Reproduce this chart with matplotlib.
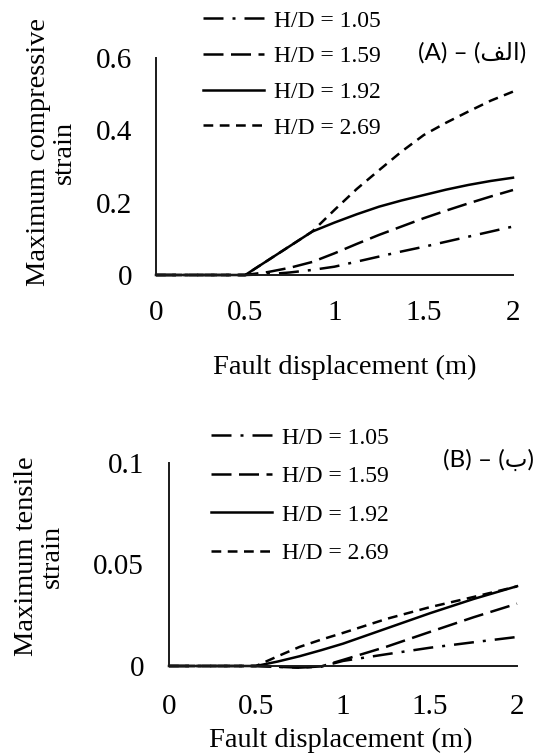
import numpy as np
import matplotlib
matplotlib.use('Agg')
import matplotlib.pyplot as plt

# fault displacement (m)
disp_a = [0, 0.5, 0.625, 0.75, 0.875, 1.0, 1.125, 1.25, 1.375, 1.5, 1.625, 1.75, 1.875, 2.0]

# (A) maximum compressive strain
comp_105 = [0, 0, 0.002, 0.007, 0.014, 0.023, 0.037, 0.051, 0.065, 0.078, 0.092, 0.106, 0.120, 0.134]
comp_159 = [0, 0, 0.008, 0.020, 0.036, 0.060, 0.086, 0.111, 0.134, 0.157, 0.178, 0.198, 0.217, 0.235]
comp_192 = [0, 0, 0.040, 0.080, 0.120, 0.145, 0.168, 0.189, 0.206, 0.221, 0.236, 0.249, 0.260, 0.269]
comp_269 = [0, 0, 0.040, 0.080, 0.120, 0.180, 0.238, 0.290, 0.341, 0.387, 0.421, 0.452, 0.482, 0.507]

disp_b = [0, 0.5, 0.625, 0.75, 0.875, 1.0, 1.25, 1.5, 1.75, 2.0]

# (B) maximum tensile strain
tens_105 = [0, 0, -0.0004, -0.0008, -0.0003, 0.0025, 0.0058, 0.0090, 0.0117, 0.0143]
tens_159 = [0, 0, -0.0004, -0.0008, -0.0002, 0.0030, 0.0095, 0.0168, 0.0240, 0.0307]
tens_192 = [0, 0, 0.0022, 0.0048, 0.0078, 0.0110, 0.0185, 0.0260, 0.0330, 0.0393]
tens_269 = [0, 0, 0.0048, 0.0094, 0.0130, 0.0163, 0.0232, 0.0290, 0.0340, 0.0392]

labels = ['H/D = 1.05', 'H/D = 1.59', 'H/D = 1.92', 'H/D = 2.69']
styles = [(0, (8.0, 3.6, 1.2, 3.6)), (0, (8.0, 3.0)), '-', (0, (3.9, 2.6))]

W, H = 543, 754
serif = ['Liberation Serif', 'DejaVu Serif']
fig = plt.figure(figsize=(W / 100, H / 100), dpi=100)


def px_axes(l, t, r, b):
    return fig.add_axes([l / W, 1 - b / H, (r - l) / W, (b - t) / H])


def setup(ax, ymax, yticks, yfmt):
    ax.set_xlim(0, 2)
    ax.set_ylim(0, ymax)
    for s in ['top', 'right']:
        ax.spines[s].set_visible(False)
    for s in ['left', 'bottom']:
        ax.spines[s].set_linewidth(1.4)
        ax.spines[s].set_color('#1a1a1a')
    ax.set_xticks([0, 0.5, 1, 1.5, 2])
    ax.set_xticklabels(['0', '0.5', '1', '1.5', '2'])
    ax.set_yticks(yticks)
    ax.set_yticklabels(yfmt)
    ax.tick_params(length=0, labelsize=21)
    for t in ax.get_xticklabels() + ax.get_yticklabels():
        t.set_family(serif)


def draw(ax, x, series, legend_xy, spacing):
    for ys, lab, ls in zip(series, labels, styles):
        ax.plot(x, ys, color='black', lw=1.8, ls=ls, label=lab, clip_on=False)
    leg = ax.legend(loc='upper left', bbox_to_anchor=(legend_xy[0] / W, 1 - legend_xy[1] / H),
                    bbox_transform=fig.transFigure, frameon=False, borderpad=0,
                    borderaxespad=0, handlelength=2.6, handletextpad=0.4,
                    labelspacing=spacing, prop={'family': serif, 'size': 17})
    return leg


# (A)
ax1 = px_axes(156, 58, 513, 275)
setup(ax1, 0.6, [0, 0.2, 0.4, 0.6], ['0', '0.2', '0.4', '0.6'])
ax1.tick_params(axis='x', pad=18)
ax1.tick_params(axis='y', pad=17)
draw(ax1, disp_a, [comp_105, comp_159, comp_192, comp_269], (203, 10), 0.6)

# (B)
ax2 = px_axes(169, 463, 517, 666)
setup(ax2, 0.1, [0, 0.05, 0.1], ['0', '0.05', '0.1'])
ax2.tick_params(axis='x', pad=20)
ax2.tick_params(axis='y', pad=18)
draw(ax2, disp_b, [tens_105, tens_159, tens_192, tens_269], (211, 427), 0.72)

# axis titles
fig.text(51 / W, 1 - 152 / H, 'Maximum compressive\nstrain', rotation=90, ha='center',
         va='center', family=serif, size=20.5, linespacing=1.05)
fig.text(345 / W, 1 - 367 / H, 'Fault displacement (m)', ha='center', va='center',
         family=serif, size=20.5)
fig.text(39 / W, 1 - 556 / H, 'Maximum tensile\nstrain', rotation=90, ha='center',
         va='center', family=serif, size=20.5, linespacing=1.05)
fig.text(341 / W, 1 - 740 / H, 'Fault displacement (m)', ha='center', va='center',
         family=serif, size=20.5)

# panel tags, Arabic written in presentation forms (visual order)
fig.text(418 / W, 1 - 53 / H, '(A) \u2013 (\ufed2\ufedf\ufe8d)', ha='left', va='center',
         family=['Lato', 'DejaVu Sans'], size=17.5)
fig.text(443 / W, 1 - 460 / H, '(B) \u2013 (\ufe8f)', ha='left', va='center',
         family=['Lato', 'DejaVu Sans'], size=17.5)

fig.savefig('out.png', dpi=100)
